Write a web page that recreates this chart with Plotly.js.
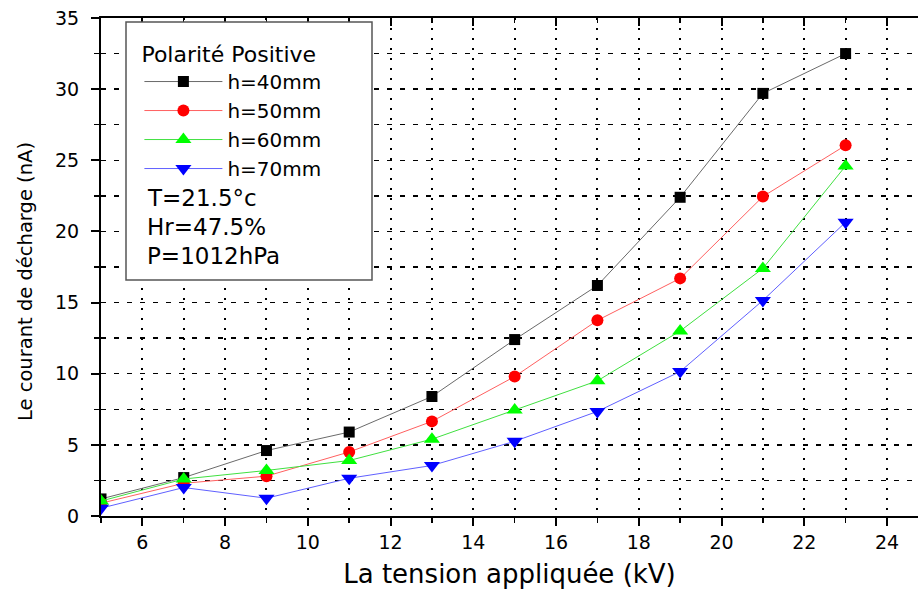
<!DOCTYPE html>
<html>
<head>
<meta charset="utf-8">
<script src="https://cdn.plot.ly/plotly-3.0.1.min.js"></script>
<style>html,body{margin:0;padding:0;background:#fff;}#chart{width:918px;height:592px;}</style>
</head>
<body>
<div id="chart"></div>
<script>
const voltage = [5, 7, 9, 11, 13, 15, 17, 19, 21, 23];
const h40 = [1.2, 2.7, 4.6, 5.9, 8.4, 12.4, 16.2, 22.4, 29.7, 32.5];
const h50 = [0.9, 2.3, 2.8, 4.5, 6.65, 9.8, 13.75, 16.7, 22.45, 26.05];
const h60 = [1.05, 2.6, 3.2, 3.9, 5.4, 7.45, 9.5, 13.0, 17.4, 24.6];
const h70 = [0.55, 2.0, 1.25, 2.65, 3.55, 5.25, 7.35, 10.15, 15.15, 20.65];
const seriesNames = ['h=40mm', 'h=50mm', 'h=60mm', 'h=70mm'];
const legendTitle = 'Polarité Positive';
const conditions = ['T=21.5°c', 'Hr=47.5%', 'P=1012hPa'];
const xTitle = 'La tension appliquée (kV)';
const yTitle = 'Le courant de décharge (nA)';

const FONT = 'DejaVu Sans, Liberation Sans, Arial, sans-serif';
const styles = [
  {sym: 'square', col: '#000000', line: '#6a6a6a', size: 11},
  {sym: 'circle', col: '#ff0000', line: '#ff6060', size: 12},
  {sym: 'triangle-up', col: '#00ff00', line: '#40e040', size: 14},
  {sym: 'triangle-down', col: '#0000ff', line: '#6060ff', size: 14}
];
const ys = [h40, h50, h60, h70];
const traces = ys.map((y, i) => ({
  x: voltage, y: y, name: seriesNames[i], type: 'scatter', mode: 'lines+markers',
  line: {color: styles[i].line, width: 1},
  marker: {symbol: styles[i].sym, color: styles[i].col, size: styles[i].size}
}));
traces.push({x: [], y: [], xaxis: 'x2', yaxis: 'y', showlegend: false, hoverinfo: 'skip', type: 'scatter'});

// plot area: x 101..918, y 18..516
const annotations = conditions.map((t, i) => ({
  xref: 'paper', yref: 'paper', x: 0.054, y: (516 - (198 + i * 29)) / 498,
  xanchor: 'left', yanchor: 'middle', showarrow: false, text: t,
  font: {family: FONT, size: 23, color: '#000'}
}));
annotations.push({
  xref: 'paper', yref: 'paper', x: (26 - 101) / 817, y: (516 - 282) / 498,
  xanchor: 'center', yanchor: 'middle', showarrow: false, textangle: -90,
  text: yTitle, font: {family: FONT, size: 19.5, color: '#000'}
});

const layout = {
  width: 918, height: 592,
  margin: {l: 101, r: 0, t: 18, b: 76},
  paper_bgcolor: '#fff', plot_bgcolor: '#fff',
  font: {family: FONT, color: '#000'},
  xaxis: {
    range: [5, 24.75], dtick: 2, tick0: 0,
    showline: true, linecolor: '#000', linewidth: 2,
    ticks: 'outside', ticklen: 8, tickwidth: 2, tickcolor: '#000',
    tickfont: {family: FONT, size: 19, color: '#000'},
    showgrid: true, gridcolor: '#000', gridwidth: 2, griddash: '2px,8px',
    zeroline: false,
    minor: {dtick: 1, tick0: 0, ticks: 'outside', ticklen: 5, tickwidth: 1.5, tickcolor: '#000',
            showgrid: true, gridcolor: '#000', gridwidth: 2, griddash: '2px,8px'},
    title: {text: xTitle, font: {family: FONT, size: 26, color: '#000'}, standoff: 13}
  },
  xaxis2: {
    overlaying: 'x', side: 'top', anchor: 'y', matches: 'x', range: [5, 24.75], dtick: 2, tick0: 0,
    showline: true, linecolor: '#000', linewidth: 2,
    ticks: 'inside', ticklen: 8, tickwidth: 2, tickcolor: '#000',
    showticklabels: false, showgrid: false, zeroline: false,
    minor: {dtick: 1, tick0: 0, ticks: 'inside', ticklen: 5, tickwidth: 1.5, tickcolor: '#000'}
  },
  yaxis: {
    range: [0, 35], dtick: 5, tick0: 0,
    showline: true, linecolor: '#000', linewidth: 2,
    ticks: 'outside', ticklen: 8, tickwidth: 2, tickcolor: '#000',
    tickfont: {family: FONT, size: 19, color: '#000'},
    ticklabelstandoff: 8,
    showgrid: true, gridcolor: '#000', gridwidth: 1.5, griddash: '5px,8px',
    zeroline: false,
    minor: {dtick: 2.5, tick0: 0, ticks: 'outside', ticklen: 5, tickwidth: 1.5, tickcolor: '#000',
            showgrid: true, gridcolor: '#000', gridwidth: 1.5, griddash: '5px,8px'}
  },
  showlegend: true,
  legend: {
    x: 0.047, y: 0.969, xanchor: 'left', yanchor: 'top',
    bgcolor: 'rgba(0,0,0,0)', borderwidth: 0,
    font: {family: FONT, size: 20, color: '#000'},
    title: {text: legendTitle, font: {family: FONT, size: 22, color: '#000'}},
    itemwidth: 78,
    tracegroupgap: 0
  },
  shapes: [{
    type: 'rect', xref: 'paper', yref: 'paper', layer: 'above',
    x0: (126 - 101) / 817, x1: (372 - 101) / 817, y0: (516 - 280) / 498, y1: (516 - 22) / 498,
    line: {color: '#555', width: 1.5}, fillcolor: '#fff'
  }],
  annotations: annotations
};

Plotly.newPlot('chart', traces, layout, {displayModeBar: false, staticPlot: true});
</script>
</body>
</html>
